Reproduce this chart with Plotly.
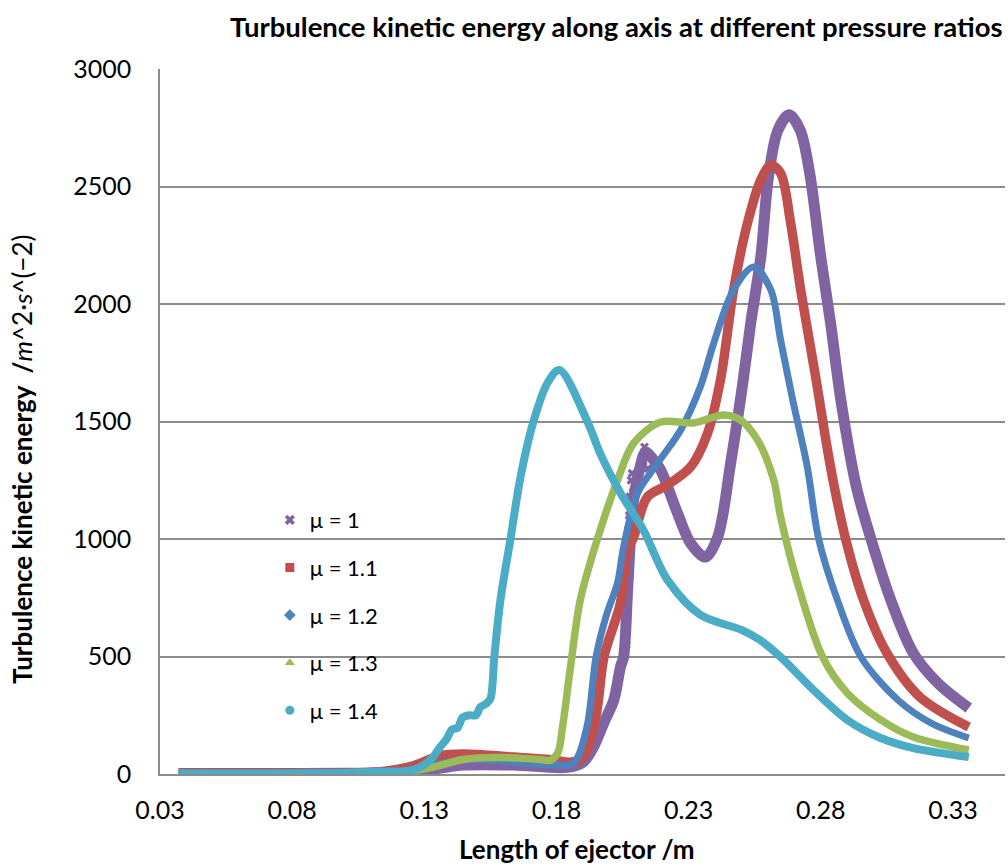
import plotly.graph_objects as go

# ---------------- data ----------------
labels = ["μ = 1", "μ = 1.1", "μ = 1.2", "μ = 1.3", "μ = 1.4"]

x_mu10 = [0.037, 0.07, 0.10, 0.12, 0.133, 0.1448, 0.1637, 0.184, 0.19, 0.194, 0.198, 0.2017,
          0.2042, 0.2054, 0.207, 0.209, 0.2115, 0.2137, 0.2165, 0.2194, 0.2258, 0.2307, 0.2364,
          0.241, 0.2459, 0.2505, 0.2535, 0.2573, 0.2602, 0.2638, 0.268, 0.2722, 0.2758, 0.28,
          0.2837, 0.2876, 0.2935, 0.299, 0.3065, 0.315, 0.3243, 0.336]
y_mu10 = [2, 2, 3, 6, 20, 38, 38, 28, 50, 115, 220, 315,
          455, 498, 800, 1150, 1300, 1370, 1340, 1294, 1110, 983, 923,
          1008, 1323, 1664, 1919, 2200, 2540, 2740, 2805, 2740, 2557, 2200,
          1919, 1591, 1220, 1000, 740, 515, 387, 281]

# scattered outlier points of the μ = 1 series near x = 0.21
x_mu10_scatter = [0.2064, 0.2066, 0.2067, 0.2069, 0.2071, 0.2073, 0.2075, 0.2078, 0.2082, 0.2086,
                  0.2090, 0.2128, 0.2133, 0.2140, 0.2146]
y_mu10_scatter = [549, 655, 783, 860, 953, 1040, 1100, 1180, 1250, 1280, 1200, 1330, 1391, 1360, 1300]

x_mu11 = [0.037, 0.08, 0.105, 0.115, 0.1258, 0.136, 0.1448, 0.1637, 0.1789, 0.185, 0.19, 0.195,
          0.198, 0.2042, 0.2069, 0.2092, 0.2144, 0.222, 0.2307, 0.2372, 0.2421, 0.247, 0.2523,
          0.2573, 0.2611, 0.2648, 0.2686, 0.2724, 0.2779, 0.2837, 0.2894, 0.2962, 0.305, 0.3175, 0.336]
y_mu11 = [2, 2, 5, 12, 35, 78, 85, 72, 60, 50, 70, 250,
          500, 728, 953, 1008, 1179, 1230, 1306, 1451, 1680, 2060, 2345,
          2528, 2591, 2557, 2345, 2060, 1700, 1306, 1000, 740, 515, 328, 200]

x_mu12 = [0.037, 0.08, 0.11, 0.12, 0.13, 0.1448, 0.165, 0.1766, 0.1864, 0.1915, 0.195, 0.199,
          0.2031, 0.2054, 0.2107, 0.2183, 0.227, 0.2345, 0.2395, 0.247, 0.2546, 0.2611, 0.2648,
          0.2694, 0.2749, 0.2792, 0.2863, 0.2952, 0.3092, 0.3217, 0.336]
y_mu12 = [2, 2, 4, 8, 30, 60, 50, 40, 47, 200, 500, 680,
          813, 966, 1196, 1323, 1464, 1650, 1834, 2060, 2157, 2060, 1847,
          1591, 1306, 1000, 740, 498, 315, 217, 153]

x_mu13 = [0.037, 0.08, 0.11, 0.12, 0.1323, 0.1448, 0.1577, 0.174, 0.1775, 0.1805, 0.1823, 0.1853,
          0.189, 0.1955, 0.2031, 0.2092, 0.2194, 0.2319, 0.2433, 0.2497, 0.2561, 0.2622, 0.2648,
          0.2712, 0.2807, 0.290, 0.3027, 0.315, 0.336]
y_mu13 = [2, 2, 4, 8, 26, 62, 70, 62, 58, 90, 200, 455,
          740, 1000, 1251, 1408, 1498, 1494, 1528, 1506, 1421, 1251, 1094,
          813, 498, 345, 230, 157, 102]

x_mu14 = [0.037, 0.08, 0.1133, 0.1258, 0.1323, 0.136, 0.1385, 0.1405, 0.1425, 0.1445, 0.147,
          0.1495, 0.1512, 0.1535, 0.155, 0.1565, 0.1588, 0.1626, 0.1664, 0.1713, 0.1766, 0.1811,
          0.1917, 0.1967, 0.2042, 0.2129, 0.222, 0.2345, 0.25, 0.257, 0.2648, 0.2773, 0.29,
          0.3027, 0.315, 0.336]
y_mu14 = [2, 2, 10, 17, 60, 115, 150, 190, 195, 240, 250,
          250, 285, 300, 320, 500, 740, 1000, 1264, 1500, 1664, 1719,
          1500, 1360, 1196, 1038, 826, 677, 613, 570, 498, 357, 230,
          153, 110, 72]

xs = [x_mu10, x_mu11, x_mu12, x_mu13, x_mu14]
ys = [y_mu10, y_mu11, y_mu12, y_mu13, y_mu14]

x_ticks = [0.03, 0.08, 0.13, 0.18, 0.23, 0.28, 0.33]
y_ticks = [0, 500, 1000, 1500, 2000, 2500, 3000]

# ---------------- styles ----------------
colors = ["#8064A2", "#C0504D", "#4F81BD", "#9BBB59", "#4BACC6"]
widths = [11, 9.5, 7, 7.5, 8]
symbols = ["x", "square", "diamond", "triangle-up", "circle"]
FONT = "Lato, 'Open Sans', sans-serif"

fig = go.Figure()

for i in range(5):
    fig.add_trace(go.Scatter(
        x=xs[i], y=ys[i], mode="lines",
        line=dict(color=colors[i], width=widths[i], shape="spline", smoothing=0.9),
        showlegend=False, hoverinfo="skip"))
    if i == 0:
        fig.add_trace(go.Scatter(
            x=x_mu10_scatter, y=y_mu10_scatter, mode="markers",
            marker=dict(symbol="x", size=8, color=colors[0]),
            showlegend=False, hoverinfo="skip"))

# legend entries (marker style, as in the reference)
for i in range(5):
    fig.add_trace(go.Scatter(
        x=[None], y=[None], mode="markers", name=labels[i], legendgroup=f"g{i}",
        marker=dict(symbol=symbols[i], size=9, color=colors[i])))

fig.update_layout(
    width=1008, height=867,
    margin=dict(l=160, r=3, t=69, b=93),
    paper_bgcolor="white", plot_bgcolor="white",
    font=dict(family=FONT, color="black", size=26),
    showlegend=True,
    legend=dict(x=0.13, y=0.39, xanchor="left", yanchor="top",
                font=dict(size=22, family=FONT), bgcolor="rgba(0,0,0,0)",
                traceorder="grouped", tracegroupgap=16, itemwidth=30),
    xaxis=dict(range=[0.03, 0.3497], tickvals=x_ticks, ticktext=[f"{v:.2f}" for v in x_ticks],
               showgrid=False, zeroline=False, showline=True, linecolor="#8c8c8c", linewidth=1.5,
               ticks="", ticklabelstandoff=13, tickfont=dict(size=25)),
    yaxis=dict(range=[0, 3000], tickvals=y_ticks, showgrid=True, gridcolor="#8c8c8c", gridwidth=1.5,
               zeroline=True, zerolinecolor="#8c8c8c", zerolinewidth=1.5,
               showline=True, linecolor="#8c8c8c", linewidth=1.5,
               ticks="", ticklabelstandoff=22, tickfont=dict(size=25)),
)

fig.add_annotation(text="<b>Turbulence kinetic energy along axis at different pressure ratios</b>",
                   xref="paper", yref="paper", x=(616 - 160) / 845, y=(774 - 27) / 705,
                   xanchor="center", yanchor="middle", showarrow=False,
                   font=dict(size=27.5, family=FONT))
fig.add_annotation(text="<b>Length of ejector /m</b>",
                   xref="paper", yref="paper", x=(577 - 160) / 845, y=(774 - 849) / 705,
                   xanchor="center", yanchor="middle", showarrow=False,
                   font=dict(size=26, family=FONT))
fig.add_annotation(text="<b>Turbulence kinetic energy  /</b><i>m</i>^2·<i>s</i>^(−2)",
                   xref="paper", yref="paper", x=(22 - 160) / 845, y=(774 - 460) / 705,
                   xanchor="center", yanchor="middle", showarrow=False, textangle=-90,
                   font=dict(size=26, family=FONT))

fig.write_html("out.html", config={"displayModeBar": False},
               post_script="document.body.style.margin='0px';")
